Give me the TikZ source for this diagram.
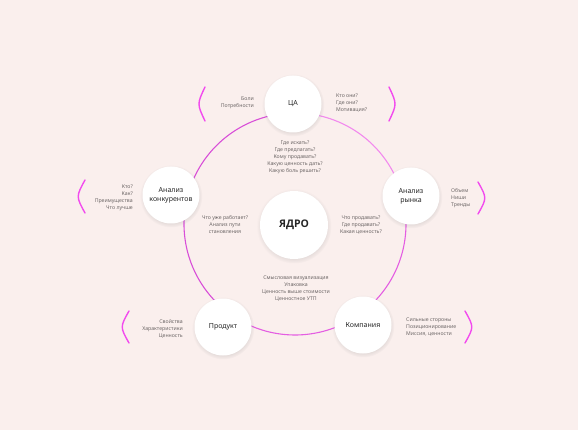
\documentclass[tikz,border=0pt]{standalone}
\usepackage{fontspec}
\setmainfont{Noto Sans}
\newfontfamily\hubfont{Open Sans}
\usetikzlibrary{positioning,shadows,backgrounds}

\definecolor{paper}{HTML}{FAEFED}
\definecolor{notegray}{HTML}{6E6868}
\definecolor{ringlight}{HTML}{F28AEE}
\definecolor{ringmid}{HTML}{E45EE2}
\definecolor{ringdeep}{HTML}{D84FD8}
\definecolor{bracecol}{HTML}{F24AEE}

\begin{document}
\begin{tikzpicture}[
  x=1pt, y=-1pt,
  stage/.style={circle, fill=white, minimum size=57pt, inner sep=0pt, align=center,
                font=\fontsize{7}{9}\selectfont, text=black!85,
                circular drop shadow={shadow xshift=0pt, shadow yshift=-1pt,
                                      shadow scale=1.1, opacity=0.18}},
  hub/.style={stage, minimum size=68pt, font=\hubfont\bfseries\fontsize{10.5}{13}\selectfont},
  note/.style={font=\fontsize{5.2}{7}\selectfont, text=notegray, inner sep=0pt},
  ringseg/.style={line width=1.1pt},
  brace/.style={line width=1.4pt, line cap=round, draw=bracecol}
]
  \useasboundingbox (0,0) rectangle (578,430);
  \coordinate (ring) at (295,224);

  % stages on the ring
  \node[stage] (ca)      at (293,104) {ЦА};
  \node[stage] (market)  at (411,196) {Анализ\\рынка};
  \node[stage] (company) at (363,325) {Компания};
  \node[stage] (product) at (223,327) {Продукт};
  \node[stage] (rivals)  at (171,195) {Анализ\\конкурентов};
  \node[hub]   (core)    at (294,225) {ЯДРО};

  % notes outside the ring
  \node[note, anchor=east, align=right] (caL)      at (254,103) {Боли\\Потребности};
  \node[note, anchor=west, align=left]  (caR)      at (336,103) {Кто они?\\Где они?\\Мотивация?};
  \node[note, anchor=west, align=left]  (marketR)  at (451,198) {Объем\\Ниши\\Тренды};
  \node[note, anchor=west, align=left]  (companyR) at (406,327) {Сильные стороны\\Позиционирование\\Миссия, ценности};
  \node[note, anchor=east, align=right] (productL) at (183,329) {Свойства\\Характеристики\\Ценность};
  \node[note, anchor=east, align=right] (rivalsL)  at (133,197.5) {Кто?\\Как?\\Преимущества\\Что лучше};

  % questions inside the ring
  \node[note, align=center] (caQ)      at (295,157) {Где искать?\\Где предлагать?\\Кому продавать?\\Какую ценность дать?\\Какую боль решить?};
  \node[note, align=center] (rivalsQ)  at (225,225) {Что уже работает?\\Анализ пути\\становления};
  \node[note, align=center] (marketQ)  at (361,225) {Что продавать?\\Где продавать?\\Какая ценность?};
  \node[note, align=center] (productQ) at (296,288.5) {Смысловая визуализация\\Упаковка\\Ценность выше стоимости\\Ценностное УТП};

  % brackets beside the outer notes
  \draw[brace] (205,87) .. controls (197,104) .. (205,121);
  \draw[brace] (389,87) .. controls (397,104) .. (389,121);
  \draw[brace] (478,182) .. controls (487,198) .. (478,214);
  \draw[brace] (85,180) .. controls (76,196.5) .. (85,213);
  \draw[brace] (129,311) .. controls (120,327) .. (129,343);
  \draw[brace] (465,311) .. controls (474,327) .. (465,343);

  \begin{scope}[on background layer]
    \fill[paper] (0,0) rectangle (578,430);
    % ring segments from stage to stage
    \foreach \a/\b/\c in {-91/-14/ringlight, -14/56/ringmid, 56/125/ringmid,
                          125/194/ringdeep, 194/269/ringdeep}
      \draw[ringseg, draw=\c] ([shift={(\a:111)}]ring) arc[start angle=\a, end angle=\b, radius=111];
  \end{scope}
\end{tikzpicture}
\end{document}
